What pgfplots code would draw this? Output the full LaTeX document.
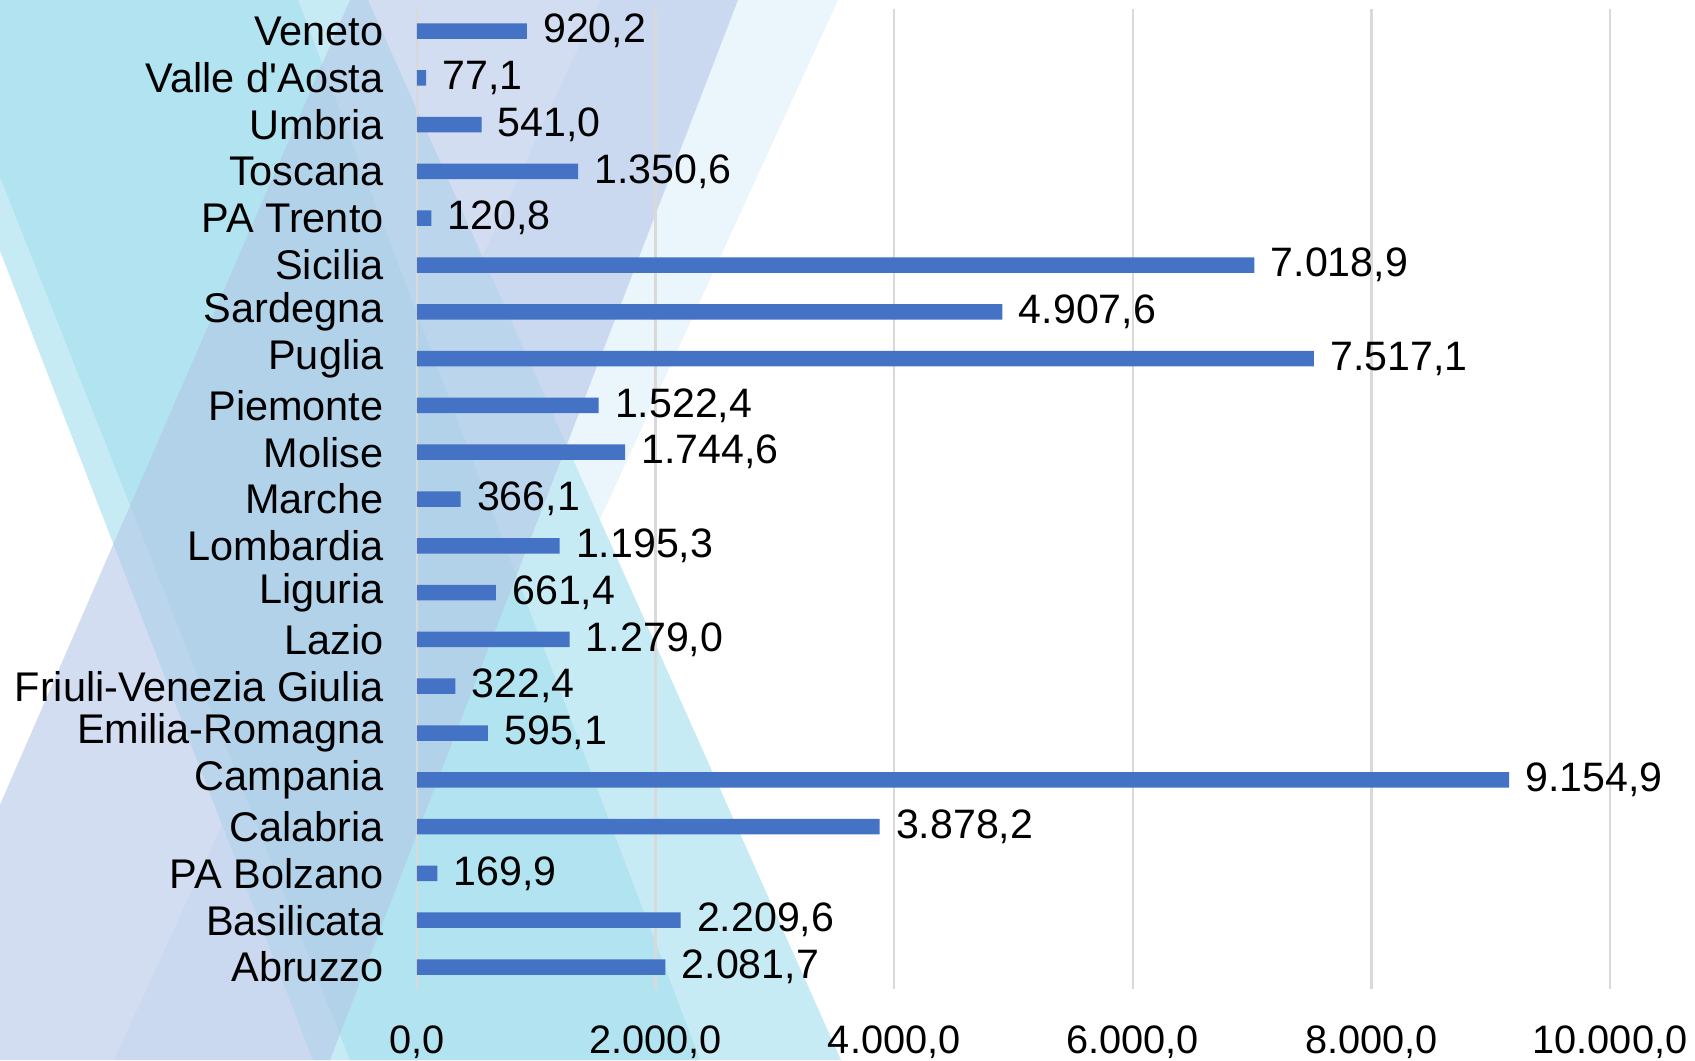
\documentclass[border=0pt]{standalone}
\usepackage{fontspec}
\setmainfont{Liberation Sans}
\usepackage{pgfplots}
\pgfplotsset{compat=1.18}

\definecolor{barblue}{HTML}{4472C4}
\definecolor{gridgray}{HTML}{D9D9D9}
\definecolor{palecyan}{HTML}{C6EBF4}
\definecolor{cyanband}{HTML}{B1E3F0}
\definecolor{lavband}{RGB}{179,198,231}
\definecolor{verylight}{HTML}{EBF5FC}

\pgfkeys{/pgf/number format/.cd, fixed, fixed zerofill, precision=1,
  1000 sep={.}, use comma, assume math mode=true}

\begin{document}
\begin{tikzpicture}[x=0.1mm,y=0.1mm]
\path[use as bounding box] (0,0) rectangle (1695,1060);
% decorative background bands
\begin{scope}
  \clip (0,0) rectangle (1695,1060);
  \fill[white] (0,0) rectangle (1695,1060);
  \fill[verylight] (600,1060) -- (838,1060) -- (352,0) -- (114,0) -- cycle;
  \fill[palecyan] (-97,1060) -- (368,1060) -- (841,0) -- (313,0) -- cycle;
  \fill[cyanband] (-70,1060) -- (298,1060) -- (700,0) -- (350,0) -- cycle;
  \fill[lavband, opacity=0.58] (350,1060) -- (738,1060) -- (330,0) -- (-111,0) -- cycle;
\end{scope}

\begin{axis}[
  at={(41.7mm,7.1mm)}, anchor=south west,
  scale only axis, width=119.3mm, height=98mm,
  xbar, bar width=1.55mm,
  xmin=0, xmax=10000, ymin=-0.47, ymax=20.47,
  xtick={0,2000,...,10000}, scaled x ticks=false,
  ytick={0,...,20},
  yticklabels={Abruzzo,Basilicata,PA Bolzano,Calabria,Campania,Emilia-Romagna,
    Friuli-Venezia Giulia,Lazio,Liguria,Lombardia,Marche,Molise,Piemonte,
    Puglia,Sardegna,{Sicilia\ },PA Trento,Toscana,Umbria,Valle d\textquotesingle Aosta,Veneto},
  tick style={draw=none},
  axis line style={draw=none},
  xmajorgrids, grid style={gridgray, line width=0.25mm},
  yticklabel style={font=\fontsize{11.8}{13}\selectfont, anchor=east, xshift=-0.6mm},
  xticklabel style={font=\fontsize{11.3}{13}\selectfont, yshift=-2.4mm},
  point meta=x,
  nodes near coords,
  nodes near coords align={horizontal},
  every node near coord/.append style={font=\fontsize{11.7}{13}\selectfont, text=black, xshift=0.4mm},
  clip=false,
]
\addplot[fill=barblue, draw=none] coordinates {
  (2081.7,0) (2209.6,1) (169.9,2) (3878.2,3) (9154.9,4) (595.1,5)
  (322.4,6) (1279.0,7) (661.4,8) (1195.3,9) (366.1,10) (1744.6,11)
  (1522.4,12) (7517.1,13) (4907.6,14) (7018.9,15) (120.8,16) (1350.6,17)
  (541.0,18) (77.1,19) (920.2,20)
};
\end{axis}
\end{tikzpicture}
\end{document}
